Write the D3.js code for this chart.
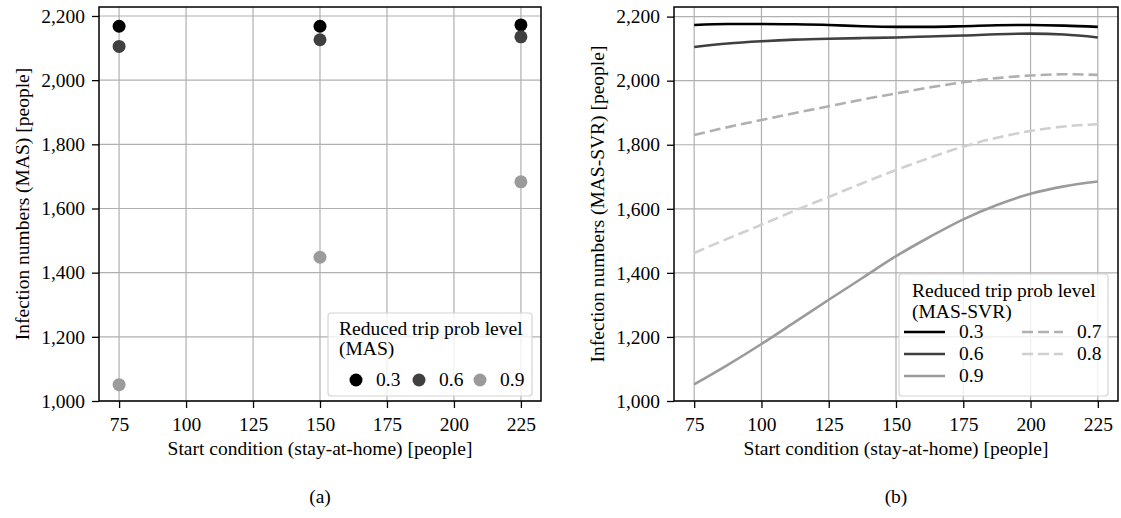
<!DOCTYPE html>
<html>
<head>
<meta charset="utf-8">
<script src="https://cdn.jsdelivr.net/npm/d3@7"></script>
<style>
  body { margin: 0; background: #fff; }
  text { font-family: "Liberation Serif", "Times New Roman", serif; fill: #000; }
</style>
</head>
<body>
<div id="chart"></div>
<script>
const xTicks = [75, 100, 125, 150, 175, 200, 225];
const yTicks = [1000, 1200, 1400, 1600, 1800, 2000, 2200];

// (a) MAS: one simulated value per start condition
const startConditions = [75, 150, 225];
const masLevels = ["0.3", "0.6", "0.9"];
const mas03 = [2168, 2168, 2172];
const mas06 = [2105, 2126, 2135];
const mas09 = [1051, 1448, 1683];

// (b) MAS-SVR: fitted curves
const svrX = [75, 87.5, 100, 112.5, 125, 137.5, 150, 162.5, 175, 187.5, 200, 212.5, 225];
const svrLevels = ["0.3", "0.6", "0.9", "0.7", "0.8"];
const svr03 = [2174, 2177, 2177, 2176, 2174, 2170, 2168, 2168, 2170, 2173, 2174, 2172, 2168];
const svr06 = [2105, 2116, 2123, 2128, 2131, 2133, 2135, 2138, 2141, 2145, 2147, 2144, 2135];
const svr09 = [1052, 1113, 1178, 1247, 1316, 1384, 1452, 1512, 1567, 1612, 1647, 1670, 1685];
const svr07 = [1830, 1855, 1877, 1899, 1920, 1941, 1960, 1979, 1995, 2008, 2016, 2020, 2018];
const svr08 = [1462, 1507, 1550, 1595, 1637, 1680, 1721, 1759, 1794, 1822, 1843, 1857, 1864];

const masColors = ["#000000", "#404040", "#9b9b9b"];
const svrStyles = [
  { color: "#000000", dash: null },
  { color: "#404040", dash: null },
  { color: "#9b9b9b", dash: null },
  { color: "#b0b0b0", dash: "11,5" },
  { color: "#d0d0d0", dash: "11,5" }
];

const fs = 19.5;
const font = "Liberation Serif";
const axTop = 7, axBottom = 401;

const svg = d3.select("#chart").append("svg")
    .attr("width", 1121)
    .attr("height", 518)
    .attr("font-family", font);

function panel(left, right, yMax, yLabel, yLabelX, caption) {
    const x = d3.scaleLinear().domain([67.5, 232.5]).range([left, right]);
    const y = d3.scaleLinear().domain([1000, yMax]).range([axBottom, axTop]);
    const g = svg.append("g");

    // grid
    g.append("g").selectAll("line").data(xTicks).enter().append("line")
        .attr("x1", d => x(d)).attr("x2", d => x(d))
        .attr("y1", axTop).attr("y2", axBottom)
        .attr("stroke", "#b0b0b0").attr("stroke-width", 1.2);
    g.append("g").selectAll("line").data(yTicks).enter().append("line")
        .attr("x1", left).attr("x2", right)
        .attr("y1", d => y(d)).attr("y2", d => y(d))
        .attr("stroke", "#b0b0b0").attr("stroke-width", 1.2);

    // axes
    const xa = g.append("g")
        .attr("transform", "translate(0," + axBottom + ")")
        .call(d3.axisBottom(x).tickValues(xTicks).tickSize(7).tickSizeOuter(0).tickPadding(9));
    const ya = g.append("g")
        .attr("transform", "translate(" + left + ",0)")
        .call(d3.axisLeft(y).tickValues(yTicks).tickFormat(d3.format(",")).tickSize(7).tickSizeOuter(0).tickPadding(7));
    [xa, ya].forEach(a => {
        a.attr("font-family", font).attr("font-size", fs);
        a.select(".domain").remove();
        a.selectAll("line").attr("stroke", "#000").attr("stroke-width", 1.3);
    });

    const mid = (left + right) / 2;
    g.append("text").attr("x", mid).attr("y", 455)
        .attr("text-anchor", "middle").attr("font-size", fs)
        .text("Start condition (stay-at-home) [people]");
    g.append("text")
        .attr("transform", "translate(" + yLabelX + "," + ((axTop + axBottom) / 2) + ") rotate(-90)")
        .attr("text-anchor", "middle").attr("dominant-baseline", "central")
        .attr("font-size", fs)
        .text(yLabel);
    g.append("text").attr("x", mid).attr("y", 503)
        .attr("text-anchor", "middle").attr("font-size", fs)
        .text(caption);

    return { g, x, y, left, right };
}

function frame(p) {
    p.g.append("rect")
        .attr("x", p.left).attr("y", axTop)
        .attr("width", p.right - p.left).attr("height", axBottom - axTop)
        .attr("fill", "none").attr("stroke", "#000").attr("stroke-width", 1.5);
}

// ---- (a) scatter ----
const pa = panel(99, 541, 2228, "Infection numbers (MAS) [people]", 22, "(a)");
[mas03, mas06, mas09].forEach((vals, i) => {
    pa.g.append("g").selectAll("circle").data(vals).enter().append("circle")
        .attr("cx", (d, j) => pa.x(startConditions[j]))
        .attr("cy", d => pa.y(d))
        .attr("r", 6.5)
        .attr("fill", masColors[i]);
});
frame(pa);

const la = pa.g.append("g");
la.append("rect").attr("x", 328).attr("y", 313).attr("width", 204).attr("height", 83)
    .attr("rx", 3).attr("fill", "#fff").attr("fill-opacity", 0.8)
    .attr("stroke", "#d4d4d4").attr("stroke-width", 1.2);
la.append("text").attr("x", 339).attr("y", 335).attr("font-size", fs).text("Reduced trip prob level");
la.append("text").attr("x", 339).attr("y", 355).attr("font-size", fs).text("(MAS)");
const masLegX = [356, 419, 480];
masLevels.forEach((lv, i) => {
    la.append("circle").attr("cx", masLegX[i]).attr("cy", 380).attr("r", 6.5).attr("fill", masColors[i]);
    la.append("text").attr("x", masLegX[i] + 20).attr("y", 386).attr("font-size", fs).text(lv);
});

// ---- (b) SVR curves ----
const pb = panel(674, 1118, 2230, "Infection numbers (MAS-SVR) [people]", 597, "(b)");
const line = d3.line()
    .x((d, j) => pb.x(svrX[j]))
    .y(d => pb.y(d))
    .curve(d3.curveMonotoneX);
const svrSeries = [svr03, svr06, svr09, svr07, svr08];
// dashed ones first, solid on top
[3, 4, 2, 1, 0].forEach(i => {
    pb.g.append("path")
        .attr("d", line(svrSeries[i]))
        .attr("fill", "none")
        .attr("stroke", svrStyles[i].color)
        .attr("stroke-width", 2.6)
        .attr("stroke-dasharray", svrStyles[i].dash);
});
frame(pb);

const lb = pb.g.append("g");
lb.append("rect").attr("x", 899).attr("y", 274).attr("width", 209).attr("height", 122)
    .attr("rx", 3).attr("fill", "#fff").attr("fill-opacity", 0.8)
    .attr("stroke", "#d4d4d4").attr("stroke-width", 1.2);
lb.append("text").attr("x", 912).attr("y", 297).attr("font-size", fs).text("Reduced trip prob level");
lb.append("text").attr("x", 912).attr("y", 318).attr("font-size", fs).text("(MAS-SVR)");
const legRows = [332, 354, 376, 332, 354];
const legCols = [904, 904, 904, 1022, 1022];
svrLevels.forEach((lv, i) => {
    lb.append("line")
        .attr("x1", legCols[i]).attr("x2", legCols[i] + 41)
        .attr("y1", legRows[i]).attr("y2", legRows[i])
        .attr("stroke", svrStyles[i].color).attr("stroke-width", 2.6)
        .attr("stroke-dasharray", svrStyles[i].dash);
    lb.append("text").attr("x", legCols[i] + 55).attr("y", legRows[i] + 6)
        .attr("font-size", fs).text(lv);
});
</script>
</body>
</html>
